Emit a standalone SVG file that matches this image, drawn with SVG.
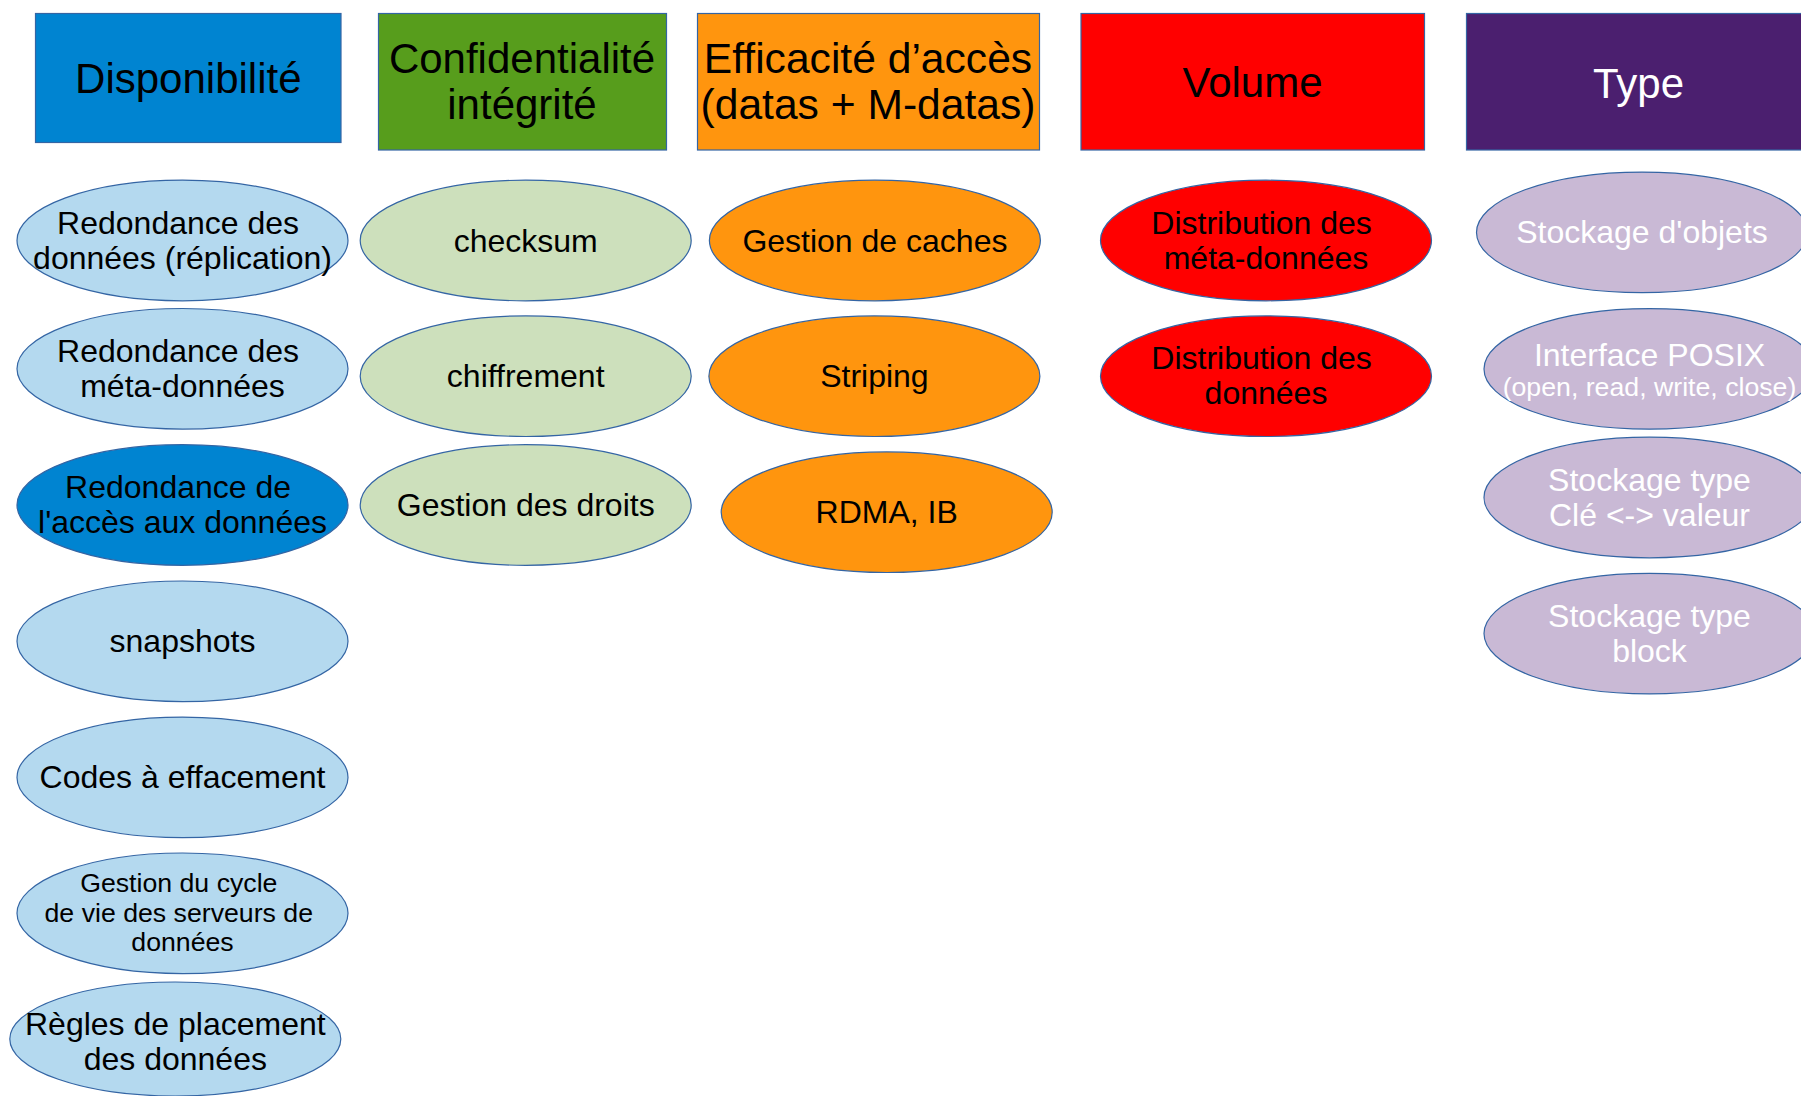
<svg xmlns="http://www.w3.org/2000/svg" width="1801" height="1096" viewBox="0 0 1801 1096">
<style>
text{font-family:"Liberation Sans",Arial,sans-serif;text-anchor:middle;fill:#000}
.h{font-size:42px}
.t{font-size:32px}
.s{font-size:26.7px}
.w{fill:#fff}
.node rect,.node ellipse{stroke:#3465a4;stroke-width:1.2}
.blue{fill:#0084d1}
.green{fill:#579d1c}
.orange{fill:#ff950e}
.red{fill:#ff0000}
.purple{fill:#4b1f6f}
.lb{fill:#b4d9ef}
.lg{fill:#cde0bc}
.lp{fill:#c9b9d5}
</style>
<rect width="1801" height="1096" fill="#fff"/>
<g id="connectors"/>
<g id="h-disponibilite" class="node"><rect class="blue" x="35.5" y="13.5" width="305.5" height="129"/><text class="h" x="188.3" y="92.7">Disponibilité</text></g>
<g id="h-confidentialite" class="node"><rect class="green" x="378.5" y="13.5" width="288" height="136.5"/><text class="h" x="522" y="72.7">Confidentialité</text><text class="h" x="522" y="119">intégrité</text></g>
<g id="h-efficacite" class="node"><rect class="orange" x="697.5" y="13.5" width="342" height="136.5"/><text class="h" x="868" y="72.7" style="font-size:42.6px">Efficacité d’accès</text><text class="h" x="868" y="119" style="font-size:42.6px">(datas + M-datas)</text></g>
<g id="h-volume" class="node"><rect class="red" x="1081" y="13.5" width="343.5" height="136.5"/><text class="h" x="1252.5" y="97">Volume</text></g>
<g id="h-type" class="node"><rect class="purple" x="1466.5" y="13.5" width="344" height="136.5"/><text class="h w" x="1638.5" y="97.5">Type</text></g>

<g id="n-redondance-donnees" class="node"><ellipse class="lb" cx="182.5" cy="240.5" rx="165.5" ry="60.3"/><text class="t" x="178.1" y="233.5">Redondance des</text><text class="t" x="182.5" y="268.5">données (réplication)</text></g>
<g id="n-redondance-meta" class="node"><ellipse class="lb" cx="182.5" cy="368.8" rx="165.5" ry="60.3"/><text class="t" x="178.1" y="361.8">Redondance des</text><text class="t" x="182.5" y="396.8">méta-données</text></g>
<g id="n-redondance-acces" class="node"><ellipse class="blue" cx="182.5" cy="505" rx="165.5" ry="60.3"/><text class="t" x="178.1" y="498">Redondance de</text><text class="t" x="182.5" y="533">l'accès aux données</text></g>
<g id="n-snapshots" class="node"><ellipse class="lb" cx="182.5" cy="641.3" rx="165.5" ry="60.3"/><text class="t" x="182.5" y="652.3">snapshots</text></g>
<g id="n-codes" class="node"><ellipse class="lb" cx="182.5" cy="777.4" rx="165.5" ry="60.3"/><text class="t" x="182.5" y="788.4">Codes à effacement</text></g>
<g id="n-cycle" class="node"><ellipse class="lb" cx="182.5" cy="913.3" rx="165.5" ry="60.3"/><text class="s" x="178.8" y="892.4">Gestion du cycle</text><text class="s" x="178.8" y="921.8">de vie des serveurs de</text><text class="s" x="182.5" y="951.2">données</text></g>
<g id="n-regles" class="node"><ellipse class="lb" cx="175.3" cy="1039" rx="165.5" ry="57"/><text class="t" x="175.3" y="1034.5">Règles de placement</text><text class="t" x="175.3" y="1070">des données</text></g>

<g id="n-checksum" class="node"><ellipse class="lg" cx="525.7" cy="240.5" rx="165.5" ry="60.3"/><text class="t" x="525.7" y="251.5">checksum</text></g>
<g id="n-chiffrement" class="node"><ellipse class="lg" cx="525.7" cy="376.2" rx="165.5" ry="60.3"/><text class="t" x="525.7" y="387.2">chiffrement</text></g>
<g id="n-droits" class="node"><ellipse class="lg" cx="525.7" cy="505" rx="165.5" ry="60.3"/><text class="t" x="525.7" y="516">Gestion des droits</text></g>

<g id="n-caches" class="node"><ellipse class="orange" cx="874.9" cy="240.5" rx="165.5" ry="60.3"/><text class="t" x="874.9" y="251.5">Gestion de caches</text></g>
<g id="n-striping" class="node"><ellipse class="orange" cx="874.4" cy="376.2" rx="165.5" ry="60.3"/><text class="t" x="874.4" y="387.2">Striping</text></g>
<g id="n-rdma" class="node"><ellipse class="orange" cx="886.7" cy="512.2" rx="165.5" ry="60.3"/><text class="t" x="886.7" y="523.2">RDMA, IB</text></g>

<g id="n-distrib-meta" class="node"><ellipse class="red" cx="1266" cy="240.5" rx="165.5" ry="60.3"/><text class="t" x="1261.6" y="233.5">Distribution des</text><text class="t" x="1266" y="268.5">méta-données</text></g>
<g id="n-distrib-donnees" class="node"><ellipse class="red" cx="1266" cy="376.2" rx="165.5" ry="60.3"/><text class="t" x="1261.6" y="369.2">Distribution des</text><text class="t" x="1266" y="404.2">données</text></g>

<g id="n-objets" class="node"><ellipse class="lp" cx="1642" cy="232.4" rx="165.5" ry="60.3"/><text class="t w" x="1642" y="243.4">Stockage d'objets</text></g>
<g id="n-posix" class="node"><ellipse class="lp" cx="1649.5" cy="368.9" rx="165.5" ry="60.3"/><text class="t w" x="1649.5" y="366">Interface POSIX</text><text class="s w" x="1649.5" y="396">(open, read, write, close)</text></g>
<g id="n-cle-valeur" class="node"><ellipse class="lp" cx="1649.5" cy="497.5" rx="165.5" ry="60.3"/><text class="t w" x="1649.5" y="490.5">Stockage type</text><text class="t w" x="1649.5" y="525.5">Clé &lt;-&gt; valeur</text></g>
<g id="n-block" class="node"><ellipse class="lp" cx="1649.5" cy="633.6" rx="165.5" ry="60.3"/><text class="t w" x="1649.5" y="626.6">Stockage type</text><text class="t w" x="1649.5" y="661.6">block</text></g>
</svg>
